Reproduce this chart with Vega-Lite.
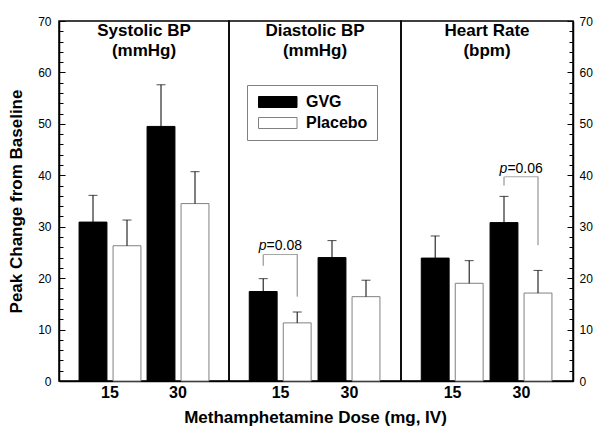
{
  "$schema": "https://vega.github.io/schema/vega-lite/v6.json",
  "padding": {"left": 6, "top": 14, "right": 5, "bottom": 3},
  "bounds": "flush",
  "spacing": 0,
  "resolve": {"scale": {"fill": "independent", "stroke": "independent"}, "legend": {"fill": "independent", "stroke": "independent"}},
  "config": {
    "font": "Liberation Sans",
    "view": {"stroke": "#000000", "strokeWidth": 1.5},
    "axis": {"domainColor": "#000000", "domainWidth": 1.5, "tickColor": "#000000", "tickWidth": 1, "labelColor": "#000000", "titleColor": "#000000", "grid": false, "labelFont": "Liberation Sans", "titleFont": "Liberation Sans"},
    "text": {"color": "#000000"}
  },
  "datasets": {
    "bars": [
      {"panel": "Systolic BP", "dose": 15, "group": "GVG", "value": 30.9, "upper": 36.1},
      {"panel": "Systolic BP", "dose": 15, "group": "Placebo", "value": 26.3, "upper": 31.3},
      {"panel": "Systolic BP", "dose": 30, "group": "GVG", "value": 49.5, "upper": 57.6},
      {"panel": "Systolic BP", "dose": 30, "group": "Placebo", "value": 34.5, "upper": 40.7},
      {"panel": "Diastolic BP", "dose": 15, "group": "GVG", "value": 17.4, "upper": 19.9},
      {"panel": "Diastolic BP", "dose": 15, "group": "Placebo", "value": 11.3, "upper": 13.4},
      {"panel": "Diastolic BP", "dose": 30, "group": "GVG", "value": 24.0, "upper": 27.3},
      {"panel": "Diastolic BP", "dose": 30, "group": "Placebo", "value": 16.4, "upper": 19.6},
      {"panel": "Heart Rate", "dose": 15, "group": "GVG", "value": 23.9, "upper": 28.2},
      {"panel": "Heart Rate", "dose": 15, "group": "Placebo", "value": 19.0, "upper": 23.4},
      {"panel": "Heart Rate", "dose": 30, "group": "GVG", "value": 30.8, "upper": 35.9},
      {"panel": "Heart Rate", "dose": 30, "group": "Placebo", "value": 17.1, "upper": 21.5}
    ],
    "brackets": [
      {"panel": "Diastolic BP", "dose": 15, "group": "GVG", "top": 24.6, "end": 22.4},
      {"panel": "Diastolic BP", "dose": 15, "group": "Placebo", "top": 24.6, "end": 16.4},
      {"panel": "Heart Rate", "dose": 30, "group": "GVG", "top": 39.7, "end": 38.0},
      {"panel": "Heart Rate", "dose": 30, "group": "Placebo", "top": 39.7, "end": 26.4}
    ],
    "notes": [
      {"panel": "Diastolic BP", "dose": 15, "top": 24.6, "label": "=0.08"},
      {"panel": "Heart Rate", "dose": 30, "top": 39.7, "label": "=0.06"}
    ]
  },
  "hconcat": [
    {
      "width": 170,
      "height": 360,
      "resolve": {"axis": {"y": "independent"}},
      "layer": [
        {
          "data": {"name": "bars"},
          "transform": [{"filter": "datum.panel === 'Systolic BP'"}],
          "mark": {"type": "bar", "strokeWidth": 1},
          "encoding": {
            "x": {"field": "dose", "type": "ordinal", "scale": {"domain": [15, 30], "paddingInner": 0, "paddingOuter": 0.25}, "axis": {"title": null, "labelAngle": 0, "ticks": false, "labelFontSize": 16, "labelFontWeight": "bold", "labelPadding": 3}},
            "xOffset": {"field": "group", "type": "nominal", "scale": {"domain": ["GVG", "Placebo"], "paddingInner": 0.18, "paddingOuter": 0.09}},
            "y": {"field": "value", "type": "quantitative", "scale": {"domain": [0, 70]}, "axis": {"orient": "left", "values": [0, 10, 20, 30, 40, 50, 60, 70], "tickSize": -6, "labelPadding": 14, "labelFontSize": 12, "title": "Peak Change from Baseline", "titleFontSize": 17, "titleFontWeight": "bold", "titlePadding": 12}},
            "fill": {"field": "group", "type": "nominal", "scale": {"domain": ["GVG", "Placebo"], "range": ["#000000", "#ffffff"]}, "legend": null},
            "stroke": {"field": "group", "type": "nominal", "scale": {"domain": ["GVG", "Placebo"], "range": ["#000000", "#808080"]}, "legend": null}
          }
        },
        {
          "data": {"name": "bars"},
          "transform": [{"filter": "datum.panel === 'Systolic BP'"}],
          "mark": {"type": "rule", "color": "#000000", "strokeWidth": 1},
          "encoding": {
            "x": {"field": "dose", "type": "ordinal", "scale": {"domain": [15, 30], "paddingInner": 0, "paddingOuter": 0.25}, "axis": {"title": null, "labelAngle": 0, "ticks": false, "labelFontSize": 16, "labelFontWeight": "bold", "labelPadding": 3}},
            "xOffset": {"field": "group", "type": "nominal", "scale": {"domain": ["GVG", "Placebo"], "paddingInner": 0.18, "paddingOuter": 0.09}},
            "y": {"field": "value", "type": "quantitative", "scale": {"domain": [0, 70]}, "axis": {"orient": "left", "values": [2, 4, 6, 8, 12, 14, 16, 18, 22, 24, 26, 28, 32, 34, 36, 38, 42, 44, 46, 48, 52, 54, 56, 58, 62, 64, 66, 68], "tickSize": -4, "labels": false, "domain": false, "title": null}},
            "y2": {"field": "upper"}
          }
        },
        {
          "data": {"name": "bars"},
          "transform": [{"filter": "datum.panel === 'Systolic BP'"}],
          "mark": {"type": "tick", "color": "#000000", "thickness": 1, "size": 9, "orient": "horizontal"},
          "encoding": {
            "x": {"field": "dose", "type": "ordinal", "scale": {"domain": [15, 30], "paddingInner": 0, "paddingOuter": 0.25}, "axis": {"title": null, "labelAngle": 0, "ticks": false, "labelFontSize": 16, "labelFontWeight": "bold", "labelPadding": 3}},
            "xOffset": {"field": "group", "type": "nominal", "scale": {"domain": ["GVG", "Placebo"], "paddingInner": 0.18, "paddingOuter": 0.09}},
            "y": {"field": "upper", "type": "quantitative", "scale": {"domain": [0, 70]}, "axis": null}
          }
        },
        {
          "data": {"values": [{}]},
          "mark": {"type": "text", "text": ["Systolic BP", "(mmHg)"], "fontSize": 17, "fontWeight": "bold", "lineHeight": 20, "baseline": "alphabetic", "align": "center"},
          "encoding": {
            "y": {"datum": 67.1, "type": "quantitative", "scale": {"domain": [0, 70]}, "axis": null}
          }
        }
      ]
    },
    {
      "width": 172,
      "height": 360,
      "layer": [
        {
          "data": {"name": "bars"},
          "transform": [{"filter": "datum.panel === 'Diastolic BP'"}],
          "mark": {"type": "bar", "strokeWidth": 1},
          "encoding": {
            "x": {"field": "dose", "type": "ordinal", "scale": {"domain": [15, 30], "paddingInner": 0, "paddingOuter": 0.25}, "axis": {"title": "Methamphetamine Dose (mg, IV)", "titleFontSize": 17, "titleFontWeight": "bold", "titlePadding": 9, "labelAngle": 0, "ticks": false, "labelFontSize": 16, "labelFontWeight": "bold", "labelPadding": 3}},
            "xOffset": {"field": "group", "type": "nominal", "scale": {"domain": ["GVG", "Placebo"], "paddingInner": 0.18, "paddingOuter": 0.09}},
            "y": {"field": "value", "type": "quantitative", "scale": {"domain": [0, 70]}, "axis": null},
            "fill": {"field": "group", "type": "nominal", "scale": {"domain": ["GVG", "Placebo"], "range": ["#000000", "#ffffff"]}, "legend": {"orient": "none", "legendX": 18, "legendY": 64, "title": null, "symbolType": "M-1,-1H6V1H-1Z", "symbolSize": 121, "symbolStrokeWidth": 1, "labelFontSize": 16, "labelFontWeight": "bold", "labelColor": "#000000", "labelOffset": 34, "padding": 9, "rowPadding": 5, "strokeColor": "#808080", "fillColor": "#ffffff"}},
            "stroke": {"field": "group", "type": "nominal", "scale": {"domain": ["GVG", "Placebo"], "range": ["#000000", "#808080"]}, "legend": {"orient": "none", "legendX": 18, "legendY": 64, "title": null, "symbolType": "M-1,-1H6V1H-1Z", "symbolSize": 121, "symbolStrokeWidth": 1, "labelFontSize": 16, "labelFontWeight": "bold", "labelColor": "#000000", "labelOffset": 34, "padding": 9, "rowPadding": 5, "strokeColor": "#808080", "fillColor": "#ffffff"}}
          }
        },
        {
          "data": {"name": "bars"},
          "transform": [{"filter": "datum.panel === 'Diastolic BP'"}],
          "mark": {"type": "rule", "color": "#000000", "strokeWidth": 1},
          "encoding": {
            "x": {"field": "dose", "type": "ordinal", "scale": {"domain": [15, 30], "paddingInner": 0, "paddingOuter": 0.25}, "axis": {"title": "Methamphetamine Dose (mg, IV)", "titleFontSize": 17, "titleFontWeight": "bold", "titlePadding": 9, "labelAngle": 0, "ticks": false, "labelFontSize": 16, "labelFontWeight": "bold", "labelPadding": 3}},
            "xOffset": {"field": "group", "type": "nominal", "scale": {"domain": ["GVG", "Placebo"], "paddingInner": 0.18, "paddingOuter": 0.09}},
            "y": {"field": "value", "type": "quantitative", "scale": {"domain": [0, 70]}, "axis": null},
            "y2": {"field": "upper"}
          }
        },
        {
          "data": {"name": "bars"},
          "transform": [{"filter": "datum.panel === 'Diastolic BP'"}],
          "mark": {"type": "tick", "color": "#000000", "thickness": 1, "size": 9, "orient": "horizontal"},
          "encoding": {
            "x": {"field": "dose", "type": "ordinal", "scale": {"domain": [15, 30], "paddingInner": 0, "paddingOuter": 0.25}, "axis": {"title": "Methamphetamine Dose (mg, IV)", "titleFontSize": 17, "titleFontWeight": "bold", "titlePadding": 9, "labelAngle": 0, "ticks": false, "labelFontSize": 16, "labelFontWeight": "bold", "labelPadding": 3}},
            "xOffset": {"field": "group", "type": "nominal", "scale": {"domain": ["GVG", "Placebo"], "paddingInner": 0.18, "paddingOuter": 0.09}},
            "y": {"field": "upper", "type": "quantitative", "scale": {"domain": [0, 70]}, "axis": null}
          }
        },
        {
          "data": {"name": "brackets"},
          "transform": [{"filter": "datum.panel === 'Diastolic BP'"}],
          "mark": {"type": "rule", "color": "#808080", "strokeWidth": 1},
          "encoding": {
            "x": {"field": "dose", "type": "ordinal", "scale": {"domain": [15, 30], "paddingInner": 0, "paddingOuter": 0.25}, "axis": {"title": "Methamphetamine Dose (mg, IV)", "titleFontSize": 17, "titleFontWeight": "bold", "titlePadding": 9, "labelAngle": 0, "ticks": false, "labelFontSize": 16, "labelFontWeight": "bold", "labelPadding": 3}},
            "xOffset": {"field": "group", "type": "nominal", "scale": {"domain": ["GVG", "Placebo"], "paddingInner": 0.18, "paddingOuter": 0.09}},
            "y": {"field": "top", "type": "quantitative", "scale": {"domain": [0, 70]}, "axis": null},
            "y2": {"field": "end"}
          }
        },
        {
          "data": {"name": "notes"},
          "transform": [{"filter": "datum.panel === 'Diastolic BP'"}],
          "mark": {"type": "tick", "color": "#808080", "thickness": 1, "size": 34, "orient": "horizontal"},
          "encoding": {
            "x": {"field": "dose", "type": "ordinal", "scale": {"domain": [15, 30], "paddingInner": 0, "paddingOuter": 0.25}, "axis": {"title": "Methamphetamine Dose (mg, IV)", "titleFontSize": 17, "titleFontWeight": "bold", "titlePadding": 9, "labelAngle": 0, "ticks": false, "labelFontSize": 16, "labelFontWeight": "bold", "labelPadding": 3}},
            "y": {"field": "top", "type": "quantitative", "scale": {"domain": [0, 70]}, "axis": null}
          }
        },
        {
          "data": {"name": "notes"},
          "transform": [{"filter": "datum.panel === 'Diastolic BP'"}],
          "mark": {"type": "text", "text": "p", "fontStyle": "italic", "fontSize": 14, "align": "right", "baseline": "alphabetic", "dx": -14, "dy": -4},
          "encoding": {
            "x": {"field": "dose", "type": "ordinal", "scale": {"domain": [15, 30], "paddingInner": 0, "paddingOuter": 0.25}, "axis": {"title": "Methamphetamine Dose (mg, IV)", "titleFontSize": 17, "titleFontWeight": "bold", "titlePadding": 9, "labelAngle": 0, "ticks": false, "labelFontSize": 16, "labelFontWeight": "bold", "labelPadding": 3}},
            "y": {"field": "top", "type": "quantitative", "scale": {"domain": [0, 70]}, "axis": null}
          }
        },
        {
          "data": {"name": "notes"},
          "transform": [{"filter": "datum.panel === 'Diastolic BP'"}],
          "mark": {"type": "text", "fontSize": 14, "align": "left", "baseline": "alphabetic", "dx": -14, "dy": -4},
          "encoding": {
            "x": {"field": "dose", "type": "ordinal", "scale": {"domain": [15, 30], "paddingInner": 0, "paddingOuter": 0.25}, "axis": {"title": "Methamphetamine Dose (mg, IV)", "titleFontSize": 17, "titleFontWeight": "bold", "titlePadding": 9, "labelAngle": 0, "ticks": false, "labelFontSize": 16, "labelFontWeight": "bold", "labelPadding": 3}},
            "y": {"field": "top", "type": "quantitative", "scale": {"domain": [0, 70]}, "axis": null},
            "text": {"field": "label"}
          }
        },
        {
          "data": {"values": [{}]},
          "mark": {"type": "text", "text": ["Diastolic BP", "(mmHg)"], "fontSize": 17, "fontWeight": "bold", "lineHeight": 20, "baseline": "alphabetic", "align": "center"},
          "encoding": {
            "y": {"datum": 67.1, "type": "quantitative", "scale": {"domain": [0, 70]}, "axis": null}
          }
        }
      ]
    },
    {
      "width": 172,
      "height": 360,
      "resolve": {"axis": {"y": "independent"}},
      "layer": [
        {
          "data": {"name": "bars"},
          "transform": [{"filter": "datum.panel === 'Heart Rate'"}],
          "mark": {"type": "bar", "strokeWidth": 1},
          "encoding": {
            "x": {"field": "dose", "type": "ordinal", "scale": {"domain": [15, 30], "paddingInner": 0, "paddingOuter": 0.25}, "axis": {"title": null, "labelAngle": 0, "ticks": false, "labelFontSize": 16, "labelFontWeight": "bold", "labelPadding": 3}},
            "xOffset": {"field": "group", "type": "nominal", "scale": {"domain": ["GVG", "Placebo"], "paddingInner": 0.18, "paddingOuter": 0.09}},
            "y": {"field": "value", "type": "quantitative", "scale": {"domain": [0, 70]}, "axis": {"orient": "right", "values": [0, 10, 20, 30, 40, 50, 60, 70], "tickSize": -6, "labelPadding": 12, "labelFontSize": 12, "title": null}},
            "fill": {"field": "group", "type": "nominal", "scale": {"domain": ["GVG", "Placebo"], "range": ["#000000", "#ffffff"]}, "legend": null},
            "stroke": {"field": "group", "type": "nominal", "scale": {"domain": ["GVG", "Placebo"], "range": ["#000000", "#808080"]}, "legend": null}
          }
        },
        {
          "data": {"name": "bars"},
          "transform": [{"filter": "datum.panel === 'Heart Rate'"}],
          "mark": {"type": "rule", "color": "#000000", "strokeWidth": 1},
          "encoding": {
            "x": {"field": "dose", "type": "ordinal", "scale": {"domain": [15, 30], "paddingInner": 0, "paddingOuter": 0.25}, "axis": {"title": null, "labelAngle": 0, "ticks": false, "labelFontSize": 16, "labelFontWeight": "bold", "labelPadding": 3}},
            "xOffset": {"field": "group", "type": "nominal", "scale": {"domain": ["GVG", "Placebo"], "paddingInner": 0.18, "paddingOuter": 0.09}},
            "y": {"field": "value", "type": "quantitative", "scale": {"domain": [0, 70]}, "axis": {"orient": "right", "values": [2, 4, 6, 8, 12, 14, 16, 18, 22, 24, 26, 28, 32, 34, 36, 38, 42, 44, 46, 48, 52, 54, 56, 58, 62, 64, 66, 68], "tickSize": -4, "labels": false, "domain": false, "title": null}},
            "y2": {"field": "upper"}
          }
        },
        {
          "data": {"name": "bars"},
          "transform": [{"filter": "datum.panel === 'Heart Rate'"}],
          "mark": {"type": "tick", "color": "#000000", "thickness": 1, "size": 9, "orient": "horizontal"},
          "encoding": {
            "x": {"field": "dose", "type": "ordinal", "scale": {"domain": [15, 30], "paddingInner": 0, "paddingOuter": 0.25}, "axis": {"title": null, "labelAngle": 0, "ticks": false, "labelFontSize": 16, "labelFontWeight": "bold", "labelPadding": 3}},
            "xOffset": {"field": "group", "type": "nominal", "scale": {"domain": ["GVG", "Placebo"], "paddingInner": 0.18, "paddingOuter": 0.09}},
            "y": {"field": "upper", "type": "quantitative", "scale": {"domain": [0, 70]}, "axis": null}
          }
        },
        {
          "data": {"name": "brackets"},
          "transform": [{"filter": "datum.panel === 'Heart Rate'"}],
          "mark": {"type": "rule", "color": "#808080", "strokeWidth": 1},
          "encoding": {
            "x": {"field": "dose", "type": "ordinal", "scale": {"domain": [15, 30], "paddingInner": 0, "paddingOuter": 0.25}, "axis": {"title": null, "labelAngle": 0, "ticks": false, "labelFontSize": 16, "labelFontWeight": "bold", "labelPadding": 3}},
            "xOffset": {"field": "group", "type": "nominal", "scale": {"domain": ["GVG", "Placebo"], "paddingInner": 0.18, "paddingOuter": 0.09}},
            "y": {"field": "top", "type": "quantitative", "scale": {"domain": [0, 70]}, "axis": null},
            "y2": {"field": "end"}
          }
        },
        {
          "data": {"name": "notes"},
          "transform": [{"filter": "datum.panel === 'Heart Rate'"}],
          "mark": {"type": "tick", "color": "#808080", "thickness": 1, "size": 34, "orient": "horizontal"},
          "encoding": {
            "x": {"field": "dose", "type": "ordinal", "scale": {"domain": [15, 30], "paddingInner": 0, "paddingOuter": 0.25}, "axis": {"title": null, "labelAngle": 0, "ticks": false, "labelFontSize": 16, "labelFontWeight": "bold", "labelPadding": 3}},
            "y": {"field": "top", "type": "quantitative", "scale": {"domain": [0, 70]}, "axis": null}
          }
        },
        {
          "data": {"name": "notes"},
          "transform": [{"filter": "datum.panel === 'Heart Rate'"}],
          "mark": {"type": "text", "text": "p", "fontStyle": "italic", "fontSize": 14, "align": "right", "baseline": "alphabetic", "dx": -14, "dy": -4},
          "encoding": {
            "x": {"field": "dose", "type": "ordinal", "scale": {"domain": [15, 30], "paddingInner": 0, "paddingOuter": 0.25}, "axis": {"title": null, "labelAngle": 0, "ticks": false, "labelFontSize": 16, "labelFontWeight": "bold", "labelPadding": 3}},
            "y": {"field": "top", "type": "quantitative", "scale": {"domain": [0, 70]}, "axis": null}
          }
        },
        {
          "data": {"name": "notes"},
          "transform": [{"filter": "datum.panel === 'Heart Rate'"}],
          "mark": {"type": "text", "fontSize": 14, "align": "left", "baseline": "alphabetic", "dx": -14, "dy": -4},
          "encoding": {
            "x": {"field": "dose", "type": "ordinal", "scale": {"domain": [15, 30], "paddingInner": 0, "paddingOuter": 0.25}, "axis": {"title": null, "labelAngle": 0, "ticks": false, "labelFontSize": 16, "labelFontWeight": "bold", "labelPadding": 3}},
            "y": {"field": "top", "type": "quantitative", "scale": {"domain": [0, 70]}, "axis": null},
            "text": {"field": "label"}
          }
        },
        {
          "data": {"values": [{}]},
          "mark": {"type": "text", "text": ["Heart Rate", "(bpm)"], "fontSize": 17, "fontWeight": "bold", "lineHeight": 20, "baseline": "alphabetic", "align": "center"},
          "encoding": {
            "y": {"datum": 67.1, "type": "quantitative", "scale": {"domain": [0, 70]}, "axis": null}
          }
        }
      ]
    }
  ]
}
